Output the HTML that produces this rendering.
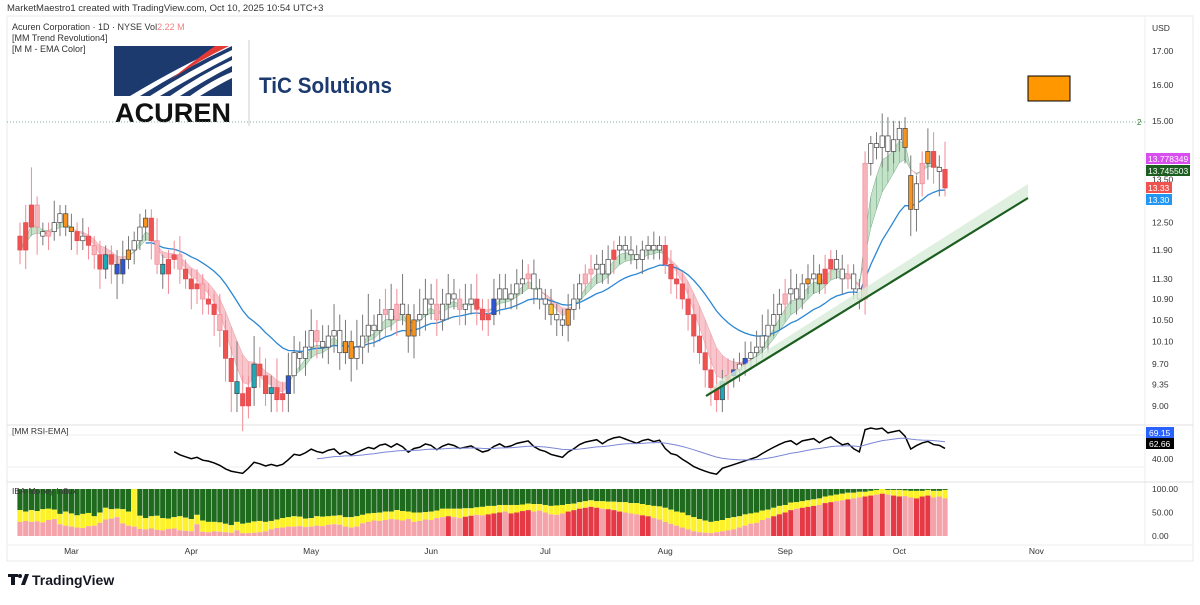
<!DOCTYPE html>
<html><head><meta charset="utf-8"><style>
body{margin:0;background:#fff;font-family:"Liberation Sans",sans-serif}
svg text{font-family:"Liberation Sans",sans-serif}
</style></head><body>
<svg id="c" width="1200" height="600" viewBox="0 0 1200 600" xmlns="http://www.w3.org/2000/svg">
<rect width="1200" height="600" fill="#fff"/>
<text x="7" y="11" font-size="9.5" fill="#333">MarketMaestro1 created with TradingView.com, Oct 10, 2025 10:54 UTC+3</text>
<rect x="7" y="16" width="1186" height="545" fill="none" stroke="#e8e8e8"/>
<line x1="1145" y1="16" x2="1145" y2="545" stroke="#eee"/>
<line x1="7" y1="425" x2="1193" y2="425" stroke="#e0e0e0"/>
<line x1="7" y1="482" x2="1193" y2="482" stroke="#e0e0e0"/>
<line x1="7" y1="545" x2="1193" y2="545" stroke="#eee"/>
<text x="12" y="30" font-size="9" fill="#333">Acuren Corporation · 1D · NYSE  Vol<tspan fill="#ef8080">2.22 M</tspan></text>
<text x="12" y="41" font-size="9" fill="#333">[MM Trend Revolution4]</text>
<text x="12" y="52" font-size="9" fill="#333">[M M - EMA Color]</text>
<g>
<rect x="114" y="46" width="118" height="50" fill="#1c3a6e"/>
<path d="M150 96 Q190 70 232 50 L232 56 Q195 75 160 96Z" fill="#fff"/>
<path d="M170 96 Q200 75 232 60 L232 66 Q205 80 180 96Z" fill="#fff"/>
<path d="M130 96 Q180 66 225 46 L232 46 Q185 68 140 96Z" fill="#fff"/>
<path d="M190 96 Q212 80 232 72 L232 78 Q218 85 200 96Z" fill="#fff"/>
<path d="M215 46 L229 46 Q200 60 170 80 Q195 60 215 46Z" fill="#e53935"/>
<text x="173" y="122" font-size="27" font-weight="bold" fill="#111" text-anchor="middle" textLength="116" lengthAdjust="spacingAndGlyphs">ACUREN</text>
<line x1="249" y1="40" x2="249" y2="126" stroke="#ccc"/>
<text x="259" y="93" font-size="22" font-weight="bold" fill="#1c3a6e" textLength="133" lengthAdjust="spacingAndGlyphs">TiC Solutions</text>
</g>
<rect x="1028" y="76" width="42" height="25" fill="#ff9800" stroke="#000"/>
<line x1="7" y1="122" x2="1145" y2="122" stroke="#7fb39a" stroke-dasharray="1,2"/>
<text x="1137" y="125" font-size="8" fill="#2e7d32">2</text>
<text x="1152" y="31" font-size="8.5" fill="#333">USD</text>
<g id="axis"></g><g id="ribbon"></g><g id="ema"></g><g id="candles"></g><g id="trend"></g><g id="rsi"></g><g id="flow"></g><g id="tags"></g>
<text x="12" y="434" font-size="8.5" fill="#333">[MM RSI-EMA]</text>
<text x="12" y="494" font-size="8.5" fill="#333">IBA-Money Influx</text>
<g>
<path d="M8 574h10v3h-3v8h-4v-8h-3z" fill="#131722"/><circle cx="20" cy="576" r="2" fill="#131722"/><path d="M21 585l4-11h4l-4 11z" fill="#131722"/>
<text x="32" y="585" font-size="14" font-weight="bold" fill="#131722">TradingView</text></g>
</svg>
<script>
const closes=[11.9,12.5,12.9,12.4,12.2,12.3,12.5,12.7,12.4,12.3,12.1,12.2,12.0,11.8,11.5,11.8,11.6,11.4,11.7,11.9,12.1,12.4,12.6,12.1,11.6,11.4,11.7,11.8,11.5,11.3,11.1,11.2,10.9,10.8,10.6,10.3,9.8,9.4,9.2,9.0,9.3,9.7,9.5,9.2,9.3,9.1,9.2,9.5,9.9,9.8,10.0,10.3,10.1,10.0,10.2,10.3,9.9,10.1,9.8,10.0,10.2,10.4,10.3,10.6,10.7,10.5,10.8,10.6,10.2,10.5,10.6,10.9,10.8,10.5,10.8,11.0,10.9,10.7,10.8,10.9,10.7,10.5,10.6,10.9,11.1,10.9,11.0,11.2,11.3,11.4,11.1,10.9,10.8,10.6,10.5,10.4,10.7,10.9,11.2,11.4,11.5,11.6,11.4,11.7,11.9,12.0,11.9,11.8,11.7,11.9,12.0,11.9,12.0,11.6,11.3,11.2,10.9,10.6,10.2,9.9,9.6,9.3,9.1,9.4,9.5,9.6,9.7,9.8,9.9,10.0,10.2,10.4,10.6,10.8,11.0,11.1,10.9,11.2,11.3,11.4,11.2,11.5,11.7,11.5,11.3,11.4,11.1,10.9,13.9,14.4,14.3,14.6,14.2,14.5,14.8,14.3,12.8,13.4,13.9,14.2,13.8,13.7,13.3];
const opens=[12.2,11.9,12.4,12.9,12.3,12.2,12.3,12.5,12.7,12.4,12.3,12.1,12.2,12.0,11.8,11.5,11.8,11.6,11.4,11.7,11.9,12.1,12.4,12.6,12.1,11.6,11.4,11.7,11.8,11.5,11.3,11.1,11.2,10.9,10.8,10.6,10.3,9.8,9.4,9.2,9.0,9.3,9.7,9.5,9.2,9.3,9.1,9.2,9.5,9.9,9.8,10.0,10.3,10.1,10.0,10.2,10.3,9.9,10.1,9.8,10.0,10.2,10.4,10.3,10.6,10.7,10.5,10.8,10.6,10.2,10.5,10.6,10.9,10.8,10.5,10.8,11.0,10.9,10.7,10.8,10.9,10.7,10.5,10.6,10.9,11.1,10.9,11.0,11.2,11.3,11.4,11.1,10.9,10.8,10.6,10.5,10.4,10.7,10.9,11.2,11.4,11.5,11.6,11.4,11.7,11.9,12.0,11.9,11.8,11.7,11.9,12.0,11.9,12.0,11.6,11.3,11.2,10.9,10.6,10.2,9.9,9.6,9.3,9.1,9.4,9.5,9.6,9.7,9.8,9.9,10.0,10.2,10.4,10.6,10.8,11.0,11.1,10.9,11.2,11.3,11.4,11.2,11.5,11.7,11.5,11.3,11.4,11.1,10.9,13.9,14.4,14.3,14.6,14.2,14.5,14.8,13.6,12.8,13.4,13.9,14.2,13.8,13.75];
const wickUp=[0.3,0.4,0.9,0.2,0.2,0.2,0.5,0.2,0.2,0.3,0.2,0.4,0.2,0.2,0.3,0.2,0.2,0.3,0.4,0.3,0.2,0.3,0.2,0.2,0.5,0.2,0.2,0.3,0.4,0.2,0.2,0.3,0.2,0.2,0.2,0.4,0.2,0.2,0.7,0.3,0.2,0.5,0.3,0.3,0.2,0.5,0.2,0.4,0.3,0.2,0.3,0.4,0.2,0.3,0.2,0.5,0.3,0.4,0.2,0.5,0.4,0.6,0.2,0.3,0.4,0.5,0.3,0.6,0.2,0.3,0.5,0.4,0.3,0.5,0.3,0.4,0.3,0.2,0.4,0.3,0.5,0.2,0.3,0.4,0.3,0.3,0.2,0.3,0.4,0.2,0.3,0.2,0.2,0.3,0.2,0.2,0.3,0.3,0.2,0.2,0.3,0.2,0.3,0.3,0.2,0.2,0.2,0.3,0.2,0.2,0.2,0.3,0.2,0.2,0.3,0.2,0.2,0.2,0.2,0.2,0.2,0.2,0.2,0.2,0.3,0.2,0.2,0.3,0.2,0.3,0.4,0.3,0.4,0.3,0.3,0.4,0.3,0.2,0.3,0.4,0.2,0.3,0.2,0.2,0.3,0.2,0.2,0.2,0.3,0.2,0.3,0.6,0.5,0.5,0.2,0.3,0.5,0.2,0.3,0.6,0.5,0.3,0.7];
const wickDn=[0.3,0.4,0.2,0.6,0.2,0.3,0.2,0.3,0.2,0.4,0.3,0.2,0.3,0.3,0.4,0.2,0.4,0.5,0.2,0.2,0.3,0.2,0.3,0.4,0.2,0.3,0.4,0.2,0.3,0.2,0.4,0.3,0.3,0.2,0.4,0.3,0.4,0.5,0.3,0.4,0.2,0.3,0.2,0.2,0.3,0.2,0.2,0.3,0.3,0.2,0.3,0.2,0.3,0.2,0.3,0.3,0.3,0.2,0.4,0.2,0.3,0.3,0.3,0.2,0.4,0.2,0.3,0.2,0.3,0.4,0.3,0.3,0.3,0.3,0.2,0.3,0.2,0.3,0.3,0.2,0.3,0.2,0.3,0.2,0.3,0.2,0.2,0.3,0.2,0.2,0.3,0.2,0.3,0.2,0.3,0.2,0.3,0.2,0.2,0.2,0.2,0.3,0.2,0.2,0.3,0.3,0.2,0.2,0.2,0.3,0.2,0.2,0.2,0.2,0.3,0.3,0.2,0.3,0.3,0.2,0.3,0.3,0.2,0.2,0.3,0.2,0.2,0.2,0.2,0.2,0.2,0.3,0.2,0.3,0.2,0.2,0.3,0.2,0.2,0.3,0.2,0.2,0.2,0.2,0.3,0.2,0.2,0.2,0.3,0.3,0.3,0.5,0.5,0.3,0.3,0.4,0.6,0.5,0.3,0.4,0.4,0.6,0.2];
const barKinds=[
"r","r","r","p","w","p","w","w","O","O","r","w","r","p","r","T","r","b","b","O","w","w","O","r","p","T","r","r","p","r",
"r","r","p","r","r","p","r","r","T","r","r","T","r","r","T","r","r","b","w","w","w","w","p","w","w","w","w","O","O","w",
"w","w","w","w","p","w","p","w","O","O","w","w","w","p","w","w","w","p","w","w","r","r","r","b","w","w","w","w","w","p",
"w","w","w","Y","w","w","O","w","w","p","p","w","w","w","r","w","w","w","w","w","w","w","w","r","r","r","r","r","r","r",
"r","r","r","T","r","b","w","b","w","w","w","w","w","w","p","w","w","w","O","w","O","r","r","w","w","p","w","w","p","w",
"w","w","w","w","w","O","O","w","p","O","r","w","r"];
const lower=[30,32,30,31,29,34,36,25,22,20,18,17,21,22,28,35,37,40,27,22,20,15,14,16,13,12,15,16,12,11,10,25,9,8,10,9,8,7,12,6,6,7,8,10,14,17,18,20,20,21,19,20,22,21,24,25,24,20,18,20,27,30,33,32,34,36,35,33,36,30,32,35,34,38,40,42,40,38,41,43,45,44,46,48,50,52,48,50,53,55,52,54,50,46,45,48,52,55,58,60,62,60,58,57,55,52,50,48,46,44,42,38,35,30,26,22,18,14,10,8,7,6,8,10,12,14,18,22,26,28,34,38,42,46,50,55,58,60,62,64,66,70,72,74,76,78,80,82,84,86,88,90,88,86,84,85,82,80,84,86,82,84,80];
const middle=[25,20,25,22,28,24,20,22,30,28,26,30,28,20,22,25,20,18,30,30,80,28,24,26,30,26,22,24,30,28,26,20,24,22,20,20,18,16,18,20,22,24,24,20,18,18,20,20,22,20,18,18,20,20,18,18,20,20,22,22,18,18,16,18,18,16,20,20,16,20,18,16,18,16,18,16,18,20,18,16,16,18,18,16,16,14,18,16,14,14,16,14,16,18,20,18,16,14,14,14,14,14,16,16,18,20,22,22,24,24,24,26,28,30,30,30,32,30,30,28,26,24,24,24,26,26,24,24,22,22,20,18,18,18,16,16,14,14,14,14,14,14,14,14,14,14,12,12,10,10,10,10,10,12,14,12,14,16,12,12,14,12,18];
const priceTicks=[17,16,15,13.5,12.5,11.9,11.3,10.9,10.5,10.1,9.7,9.35,9.0];
const rsiTicks=[40];
const flowTicks=[100,50,0];
const months=["Mar","Apr","May","Jun","Jul","Aug","Sep","Oct","Nov"];
const monthBar=[9,30,51,72,92,113,134,154,178];

const NS="http://www.w3.org/2000/svg";
function mk(p,t,a,txt){const e=document.createElementNS(NS,t);for(const k in a)e.setAttribute(k,a[k]);if(txt!==undefined)e.textContent=txt;document.getElementById(p).appendChild(e);return e;}
const N=closes.length, X0=20, DX=5.71;
const xs=i=>X0+i*DX;
const yp=p=>51+(Math.log(17)-Math.log(p))*558;
const yr=v=>459-(v-40)*0.8;
const yf=v=>536-v*0.47;

priceTicks.forEach(t=>{const e=mk('axis','text',{x:1152,y:yp(t)+3,'font-size':8.5,fill:'#333'},t.toFixed(2));

});
rsiTicks.forEach(t=>{const e=mk('axis','text',{x:1152,y:yr(t)+3,'font-size':8.5,fill:'#333'},t.toFixed(2));

});
mk('axis','line',{x1:7,x2:1145,y1:yr(70),y2:yr(70),stroke:'#eee'});
mk('axis','line',{x1:7,x2:1145,y1:yr(30),y2:yr(30),stroke:'#eee'});
flowTicks.forEach(t=>{const e=mk('axis','text',{x:1152,y:yf(t)+3,'font-size':8.5,fill:'#333'},t.toFixed(2));

});
months.forEach((m,k)=>{const e=mk('axis','text',{x:xs(monthBar[k]),y:554,'font-size':8.5,fill:'#333','text-anchor':'middle'},m);

});

function ema(arr,n){const k=2/(n+1);const o=[];arr.forEach((v,i)=>o.push(i?o[i-1]+k*(v-o[i-1]):v));return o;}
const e5=ema(closes,4), e10=ema(closes,8), e20=ema(closes,20);
for(let i=1;i<N;i++){
  const up=e5[i]>=e10[i];
  const poly=mk('ribbon','polygon',{points:`${xs(i-1)},${yp(e5[i-1])} ${xs(i)},${yp(e5[i])} ${xs(i)},${yp(e10[i])} ${xs(i-1)},${yp(e10[i-1])}`,fill:up?'#c4e4c9':'#f8c6cc',stroke:up?'#7aa88a':'#e89aa3','stroke-width':0.5});
  
  
}
let d='';for(let i=22;i<N;i++)d+=(i==22?'M':'L')+xs(i)+','+yp(e20[i]);
const el=mk('ema','path',{d,fill:'none',stroke:'#2a86d4','stroke-width':1.3});



const fills={r:'#ef5350',p:'#f7b5bb',w:'#fff',O:'#f7931e',Y:'#fbc02d',b:'#2e55d6',T:'#1fa8b8'};
for(let i=0;i<N;i++){
  const o=opens[i],c=closes[i],h=Math.max(o,c)+wickUp[i],l=Math.min(o,c)-wickDn[i];
  const k=barKinds[i]||'w';const x=xs(i);
  const stroke=k=='p'?'#f08a95':(k=='r'?'#e04a55':'#444');
  const g=mk('candles','g',{});
  
  
  const wl=document.createElementNS(NS,'line');
  [['x1',x],['x2',x],['y1',yp(h)],['y2',yp(l)],['stroke',k=='p'||k=='r'?'#f08a95':'#777'],['stroke-width',1]].forEach(a=>wl.setAttribute(a[0],a[1]));g.appendChild(wl);
  const top=yp(Math.max(o,c)),bot=yp(Math.min(o,c));
  const r=document.createElementNS(NS,'rect');
  [['x',x-2.2],['y',top],['width',4.4],['height',Math.max(1,bot-top)],['fill',fills[k]],['stroke',stroke],['stroke-width',0.7]].forEach(a=>r.setAttribute(a[0],a[1]));g.appendChild(r);
}
const tb=mk('trend','polygon',{points:'706,395 1028,198 1028,184 720,380',fill:'#d8ecd8',opacity:0.8});


const tl=mk('trend','line',{x1:706,y1:396,x2:1028,y2:198,stroke:'#1b5e20','stroke-width':2.2});



const rsi=[];let ag=0,al=0;
for(let i=1;i<N;i++){const ch=closes[i]-closes[i-1];const g=Math.max(ch,0),l=Math.max(-ch,0);
  if(i<=14){ag+=g/14;al+=l/14;}else{ag=(ag*13+g)/14;al=(al*13+l)/14;}
  rsi[i]=al==0?100:100-100/(1+ag/al);}
let rd='';for(let i=27;i<N;i++)rd+=(i==27?'M':'L')+xs(i)+','+yr(rsi[i]);
const rl=mk('rsi','path',{d:rd,fill:'none',stroke:'#000','stroke-width':1.5});


const rs=ema(rsi.slice(27),20);let sd='';rs.forEach((v,j)=>{if(j>=25)sd+=(j==25?'M':'L')+xs(j+27)+','+yr(v);});
const sl=mk('rsi','path',{d:sd,fill:'none',stroke:'#7b86d6','stroke-width':1});



for(let i=0;i<N;i++){
  const x=xs(i)-2.6,w=5.2;
  const lo=lower[i],mid=Math.min(100,lo+middle[i]);
  const g=mk('flow','g',{});
  
  
  const dark=closes[i]>opens[i]&&lo>40;
  [[100,mid,'#1e6b1e'],[mid,lo,'#fdf22a'],[lo,0,dark?'#e63946':'#f5a3ab']].forEach(s=>{
    const r=document.createElementNS(NS,'rect');
    [['x',x],['y',yf(s[0])],['width',w],['height',Math.max(0,yf(s[1])-yf(s[0]))],['fill',s[2]]].forEach(a=>r.setAttribute(a[0],a[1]));g.appendChild(r);});
}
[[13.778349,'#d84ef0','13.778349',158],[13.745503,'#1b5e20','13.745503',170],[13.33,'#ef5350','13.33',187],[13.30,'#2196f3','13.30',199]].forEach(t=>{
  const g=mk('tags','g',{});
  
  
  const r=document.createElementNS(NS,'rect');[['x',1146],['y',t[3]-5],['width',t[2].length>6?44:26],['height',11],['fill',t[1]]].forEach(a=>r.setAttribute(a[0],a[1]));g.appendChild(r);
  const tx=document.createElementNS(NS,'text');[['x',1148],['y',t[3]+4],['font-size',8.5],['fill','#fff']].forEach(a=>tx.setAttribute(a[0],a[1]));tx.textContent=t[2];g.appendChild(tx);
});
[['69.15','#2962ff',432],['62.66','#000',443]].forEach(t=>{
  const g=mk('tags','g',{});
  
  
  const r=document.createElementNS(NS,'rect');[['x',1146],['y',t[2]-5],['width',28],['height',11],['fill',t[1]]].forEach(a=>r.setAttribute(a[0],a[1]));g.appendChild(r);
  const tx=document.createElementNS(NS,'text');[['x',1149],['y',t[2]+4],['font-size',8.5],['fill','#fff']].forEach(a=>tx.setAttribute(a[0],a[1]));tx.textContent=t[0];g.appendChild(tx);
});
</script>
</body></html>
